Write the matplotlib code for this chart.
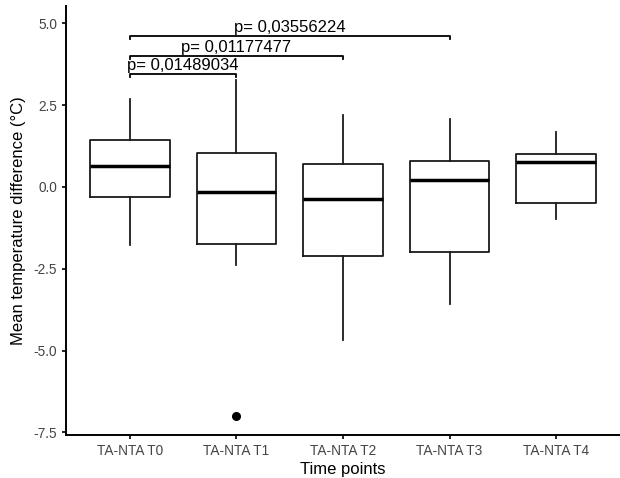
import matplotlib
matplotlib.use('Agg')
import matplotlib.pyplot as plt

plt.rcParams['font.family'] = ['Liberation Sans', 'DejaVu Sans']

# box statistics
groups = ['TA-NTA T0', 'TA-NTA T1', 'TA-NTA T2', 'TA-NTA T3', 'TA-NTA T4']
q1 = [-0.30, -1.74, -2.10, -2.00, -0.50]
med = [0.65, -0.14, -0.38, 0.21, 0.76]
q3 = [1.44, 1.05, 0.70, 0.80, 1.01]
wlo = [-1.78, -2.39, -4.68, -3.59, -0.98]
whi = [2.70, 3.27, 2.20, 2.08, 1.69]
fliers = [[], [-7.0], [], [], []]

# significance brackets: (group a, group b, height, label)
brackets = [(0, 1, 3.46, 'p= 0,01489034'),
            (0, 2, 4.00, 'p= 0,01177477'),
            (0, 3, 4.62, 'p= 0,03556224')]

stats = []
for i in range(len(groups)):
    stats.append(dict(med=med[i], q1=q1[i], q3=q3[i], whislo=wlo[i],
                      whishi=whi[i], fliers=fliers[i], label=groups[i]))

fig = plt.figure(figsize=(6.2, 4.78), dpi=100)
ax = fig.add_axes([66 / 620, 43 / 478, 554 / 620, 429 / 478])

pos = list(range(1, len(groups) + 1))
ax.bxp(stats, positions=pos, widths=0.75, showcaps=False,
       boxprops=dict(color='#1a1a1a', linewidth=1.3),
       whiskerprops=dict(color='#1a1a1a', linewidth=1.3),
       medianprops=dict(color='black', linewidth=2.5),
       flierprops=dict(marker='o', markerfacecolor='black',
                       markeredgecolor='black', markersize=5.5))

for a, b, h, lab in brackets:
    xa, xb = pos[a], pos[b]
    ax.plot([xa, xa, xb, xb], [h - 0.1, h, h, h - 0.1], color='black', lw=1.3)
    ax.text((xa + xb) / 2, h + 0.02, lab, ha='center', va='bottom', fontsize=12)

ax.set_xlim(0.4, 5.6)
ax.set_ylim(-7.58, 5.53)
ax.set_yticks([-7.5, -5.0, -2.5, 0.0, 2.5, 5.0])
ax.set_yticklabels(['-7.5', '-5.0', '-2.5', '0.0', '2.5', '5.0'])
ax.set_xticks(pos)
ax.set_xticklabels(groups)
ax.tick_params(colors='black', labelcolor='#444444', labelsize=9.8,
               length=3, width=1.2)
for s in ['top', 'right']:
    ax.spines[s].set_visible(False)
for s in ['left', 'bottom']:
    ax.spines[s].set_linewidth(1.4)

ax.set_xlabel('Time points', fontsize=12, labelpad=3)
ax.set_ylabel('Mean temperature difference (°C)', fontsize=12, labelpad=5)

fig.savefig('out.png', dpi=100)
